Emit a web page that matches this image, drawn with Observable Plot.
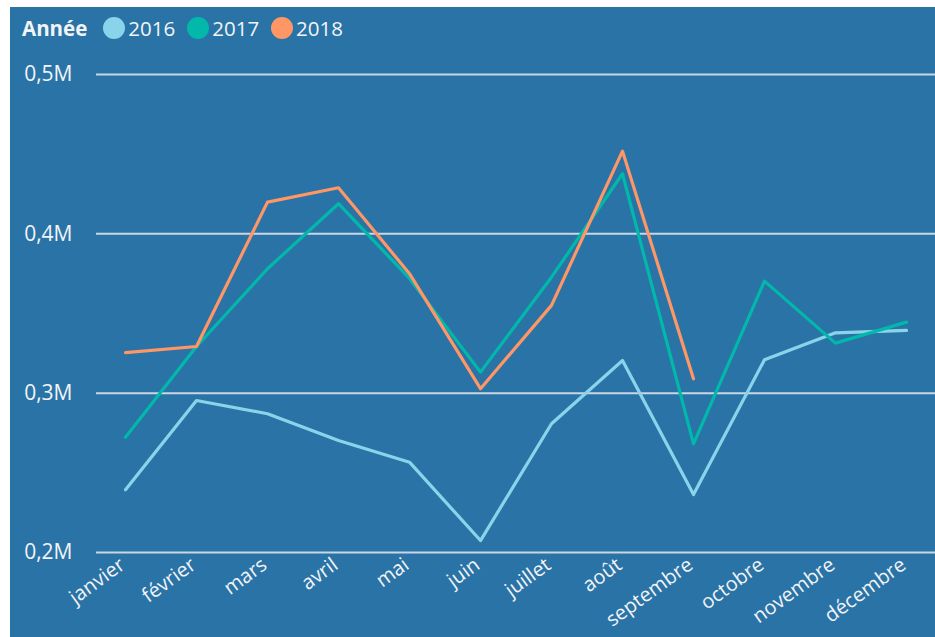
<!DOCTYPE html>
<html>
<head>
<meta charset="utf-8">
<script src="https://cdn.jsdelivr.net/npm/d3@7"></script>
<script src="https://cdn.jsdelivr.net/npm/@observablehq/plot@0.6"></script>
<style>
  html, body { margin: 0; padding: 0; background: #ffffff; }
  #card {
    position: absolute; left: 10px; top: 7px; width: 925px; height: 630px;
    background: #2a73a6; overflow: hidden;
    font-family: "Open Sans", "Noto Sans", sans-serif; color: #f2f4f7;
  }
  #legend {
    height: 42px; display: flex; align-items: center; padding-left: 12px;
    font-size: 20.5px; white-space: nowrap;
  }
  #legend .title { font-weight: 700; margin-right: 16px; }
  #legend .item { display: flex; align-items: center; margin-right: 12px; }
  #legend .dot { width: 22px; height: 22px; border-radius: 50%; margin-right: 3px; }
  #chart svg { display: block; }
</style>
</head>
<body>
<div id="card">
  <div id="legend"></div>
  <div id="chart"></div>
</div>
<script>
const months = ["janvier","février","mars","avril","mai","juin","juillet","août","septembre","octobre","novembre","décembre"];
const years = ["2016","2017","2018"];
const colors = ["#8ad4eb","#01b8aa","#fe9666"];
const values2016 = [239400, 295400, 287100, 270300, 256700, 207500, 280800, 320500, 236400, 321000, 337900, 339400];
const values2017 = [272400, 329300, 378100, 418900, 372000, 313200, 372800, 437700, 268200, 370300, 331400, 344600];
const values2018 = [325400, 329300, 419900, 428900, 375000, 302800, 355100, 451900, 309000];
const yTicks = [200000, 300000, 400000, 500000];

const series = [values2016, values2017, values2018];
const data = [];
series.forEach((vals, i) => vals.forEach((v, j) => data.push({year: years[i], month: months[j], value: v})));

// Legend
const legend = document.getElementById("legend");
const t = document.createElement("span"); t.className = "title"; t.textContent = "Année"; legend.appendChild(t);
years.forEach((y, i) => {
  const it = document.createElement("span"); it.className = "item";
  const d = document.createElement("span"); d.className = "dot"; d.style.background = colors[i];
  const l = document.createElement("span"); l.textContent = y;
  it.appendChild(d); it.appendChild(l); legend.appendChild(it);
});

const fmt = d => (d / 1e6).toFixed(1).replace(".", ",") + "M";

const chart = Plot.plot({
  width: 925,
  height: 588,
  marginTop: 25,
  marginBottom: 85,
  marginLeft: 86,
  marginRight: 0,
  style: {background: "transparent", color: "#f2f4f7", fontFamily: "'Open Sans', 'Noto Sans', sans-serif", fontSize: "21px"},
  x: {type: "point", domain: months, padding: 0.36, label: null},
  y: {domain: [200000, 500000], label: null},
  color: {domain: years, range: colors},
  marks: [
    Plot.gridY(yTicks, {stroke: "#c9d6e3", strokeOpacity: 1, strokeWidth: 2}),
    Plot.axisY(yTicks, {tickFormat: fmt, tickSize: 0, tickPadding: 24, fontSize: 21, fill: "#f2f4f7", label: null}),
    Plot.axisX({tickSize: 0, tickRotate: -36, tickPadding: 10, dx: -3, fontSize: 20, fill: "#f2f4f7", label: null}),
    Plot.line(data, {x: "month", y: "value", z: "year", stroke: "year", strokeWidth: 3.2, curve: "linear"})
  ]
});
document.getElementById("chart").appendChild(chart);
</script>
</body>
</html>
